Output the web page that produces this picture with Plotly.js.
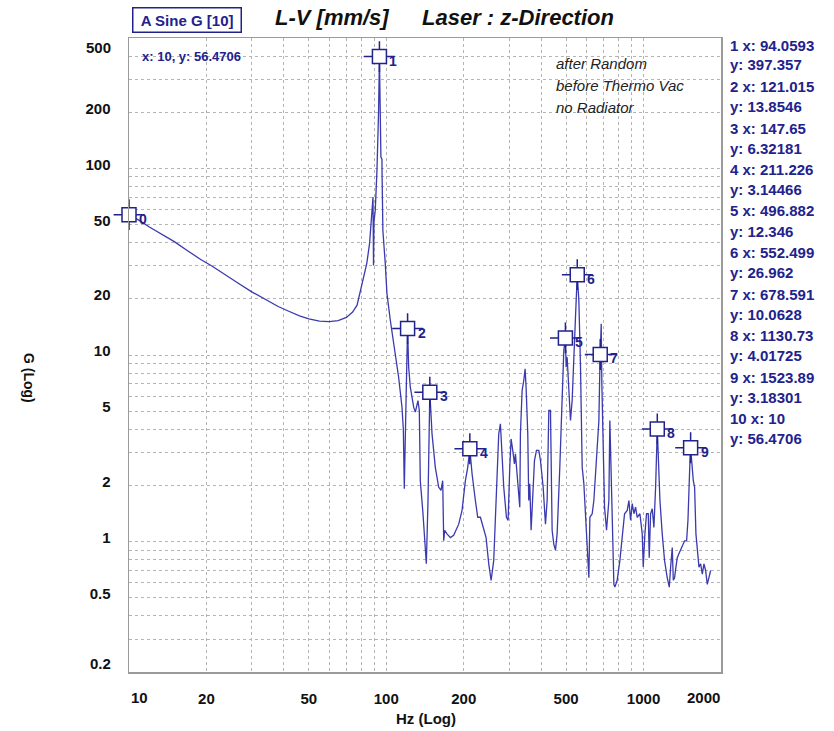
<!DOCTYPE html>
<html><head><meta charset="utf-8">
<script src="https://cdn.plot.ly/plotly-3.0.1.min.js"></script>
<style>html,body{margin:0;padding:0;background:#fff;}#chart{width:834px;height:731px;}</style>
</head><body><div id="chart"></div>
<script>
// ---- data ----
const freqHz = [10,11,12,13.5,15,17,19,21,23.5,26.5,30,34,38,42,46,50,55,60,65,70,74,77,79.2,82,84,86.1,87.3,88.0,88.8,89.2,89.6,90.6,92.0,93.3,94.06,95.3,95.8,96.2,96.3,97.0,99.1,100.6,103.7,106.8,111.7,115.1,116.5,117.5,118.5,119.7,121.0,122.2,124.0,127.8,129.7,132.8,134.4,135.6,138.9,141.8,143.1,145.3,146.8,147.65,150.6,155.1,159.8,163.2,165.7,167.2,168.7,172.2,177.5,182.8,191.2,197.0,203.0,207.3,211.2,215.5,222.0,226.7,232.2,239.2,244.3,250.2,255.5,261.6,268.0,273.6,277.7,281.8,286.1,293.1,297.5,302.0,305.6,310.2,314.9,317.7,324.4,330.3,332.2,337.3,342.3,346.4,349.5,354.8,357.9,361.2,365.6,372.2,376.7,383.5,391.6,397.5,407.1,415.7,422.0,428.3,434.7,441.2,447.8,454.6,461.4,472.6,482.6,489.8,496.9,500.2,504.7,512.3,520.0,527.8,535.8,543.8,552.5,560.4,568.8,577.4,586.1,594.9,603.8,613.0,618.5,631.4,641.0,656.6,670.5,676.5,678.6,684.5,688.6,696.9,705.3,718.0,733.1,739.7,748.6,755.3,766.7,773.6,789.8,809.0,826.1,843.6,864.1,877.1,890.4,903.8,917.3,931.0,945.0,967.8,988.3,997.2,1012,1027,1043,1052,1065,1081,1097,1114,1130.7,1137,1158,1182,1207,1236,1259,1274,1293,1305,1320,1336,1352,1372,1393,1414,1444,1470,1488,1515,1523.9,1561,1579,1598,1618,1642,1667,1692,1717,1743,1769,1796,1823];
const gLevel = [56.47,52.5,48.5,44,40.5,36,32.5,30,27,24.3,21.8,19.8,18.2,17.1,16.2,15.6,15.2,15.1,15.3,15.9,17,18.5,22,27,31,39.5,50,59.6,70.2,30.2,52,59.6,97.6,197,397.36,115,113,112,94,46.5,30.9,21.4,15.3,11.5,7.6,5.25,4.0,1.92,4.5,7.0,13.85,8.6,6.72,5.25,4.94,5.70,5.04,2.12,1.41,0.93,0.76,1.66,4.5,6.32,3.78,2.50,1.96,1.88,2.12,1.01,1.15,1.10,1.05,1.08,1.24,1.47,2.12,2.50,3.14,2.31,1.66,1.35,1.35,1.15,1.05,0.76,0.62,0.79,1.66,3.78,4.28,3.08,1.96,1.35,1.30,2.50,3.55,3.08,2.61,2.95,1.96,1.53,3.78,6.45,7.30,8.43,6.72,3.78,1.66,2.04,1.15,2.12,2.72,3.08,3.08,2.72,1.96,1.24,1.66,5.04,5.04,1.15,0.97,0.90,1.10,2.50,7.00,10.57,12.35,8.60,9.73,6.19,4.46,5.70,10.57,15.96,26.96,19.6,8.60,2.50,2.04,1.35,1.01,0.64,1.35,1.41,1.66,2.95,4.46,8.60,10.06,14.69,7.00,2.50,1.53,1.15,1.66,4.46,2.50,1.41,0.59,0.57,0.62,0.79,1.10,1.41,1.47,1.66,1.30,1.60,1.41,1.53,1.35,1.41,1.10,0.73,1.10,1.41,1.41,0.82,1.41,1.50,1.19,1.96,4.02,3.08,1.66,1.10,0.79,0.64,0.57,0.73,0.93,0.62,0.64,0.73,0.82,0.86,0.90,0.93,1.01,1.01,1.30,2.72,3.18,2.12,1.96,1.10,0.90,0.73,0.76,0.67,0.76,0.70,0.59,0.64,0.70];

const markerId = [0,1,2,3,4,5,6,7,8,9];
const listNo   = [10,1,2,3,4,5,6,7,8,9];
const markerHz = [10,94.0593,121.015,147.65,211.226,496.882,552.499,678.591,1130.73,1523.89];
const markerG  = [56.4706,397.357,13.8546,6.32181,3.14466,12.346,26.962,10.0628,4.01725,3.18301];

const xTickVals   = [10,20,30,40,50,60,70,80,90,100,200,300,400,500,600,700,800,900,1000,2000];
const xTickLabels = ['','20','','','50','','','','','100','200','','','500','','','','','1000',''];
const yTickVals   = [0.2,0.3,0.4,0.5,0.6,0.7,0.8,0.9,1,2,3,4,5,6,7,8,9,10,20,30,40,50,60,70,80,90,100,200,300,400,500];
const yTickLabels = ['','','','0.5','','','','','1','2','','','5','','','','','10','20','','','50','','','','','100','200','','',''];

const noteLines = ['after Random','before Thermo Vac','no Radiator'];
const titleLeft = 'L-V [mm/s]';
const titleRight = 'Laser : z-Direction';
const boxText = 'A Sine G [10]';
const cursorText = 'x: 10, y: 56.4706';

// ---- layout helpers (pixel -> paper) ----
const L = 129, R = 721, T = 38, B = 672, W = 834, H = 731;
const px = x => (x - L) / (R - L);
const py = y => (B - y) / (B - T);

const NAVY = '#22228c';
const LINE = '#3a3aae';
const FONT = 'Liberation Sans, Arial, Helvetica, sans-serif';

const traces = [
  {x: freqHz, y: gLevel, type: 'scatter', mode: 'lines', line: {color: LINE, width: 1.3}, hoverinfo: 'skip'},
  {x: markerHz, y: markerG, type: 'scatter', mode: 'markers', cliponaxis: false,
   marker: {symbol: 'cross-thin-open', size: 22, color: NAVY, line: {color: NAVY, width: 1.5}}, hoverinfo: 'skip'},
  {x: markerHz, y: markerG, type: 'scatter', mode: 'markers', cliponaxis: false,
   marker: {symbol: 'square', size: 14, color: '#ffffff', line: {color: NAVY, width: 1.5}}, hoverinfo: 'skip'}
];

const ann = [];
function paperText(x, y, text, size, color, extra) {
  ann.push(Object.assign({x: px(x), y: py(y), xref: 'paper', yref: 'paper', showarrow: false,
    xanchor: 'center', yanchor: 'middle', text: text, font: {family: FONT, size: size, color: color}}, extra || {}));
}
// marker labels
markerId.forEach((id, i) => ann.push({
  x: Math.log10(markerHz[i]), y: Math.log10(markerG[i]), xref: 'x', yref: 'y',
  text: '<b>' + id + '</b>', showarrow: false, xanchor: 'left', yanchor: 'middle',
  xshift: 8, yshift: -4, font: {family: FONT, size: 14, color: NAVY}
}));
// right side list
const order = [1,2,3,4,5,6,7,8,9,0];
order.forEach((mi, k) => {
  paperText(728, 45 + 41.5 * k, '<b>' + listNo[mi] + ' x: ' + markerHz[mi] + '</b>', 15, NAVY, {xanchor: 'left'});
  paperText(728, 65 + 41.5 * k, '<b>y: ' + markerG[mi] + '</b>', 15, NAVY, {xanchor: 'left'});
});
// notes
noteLines.forEach((t, k) => paperText(554, 64 + 22 * k, '<i>' + t + '</i>', 15, '#222', {xanchor: 'left'}));
// titles
paperText(332, 18, '<b><i>' + titleLeft + '</i></b>', 22, '#111');
paperText(518, 18, '<b><i>' + titleRight + '</i></b>', 22, '#111');
paperText(187, 20, '<b>\u00a0' + boxText + '\u00a0</b>', 15, NAVY, {bordercolor: NAVY, borderwidth: 1.5, borderpad: 3});
paperText(140, 56, '<b>' + cursorText + '</b>', 13, NAVY, {xanchor: 'left'});
// axis titles
paperText(29, 378, '<b>G (Log)</b>', 14, '#111', {textangle: 90});
paperText(426, 718, '<b>Hz (Log)</b>', 15, '#111');
// end tick labels placed like the reference
paperText(113, 47, '<b>500</b>', 15, '#111', {xanchor: 'right'});
paperText(113, 663, '<b>0.2</b>', 15, '#111', {xanchor: 'right'});
paperText(139, 697, '<b>10</b>', 15, '#111');
paperText(703, 697, '<b>2000</b>', 15, '#111');

const axisCommon = {
  type: 'log', showgrid: true, gridcolor: '#b4b4b4', griddash: 'dot', gridwidth: 1,
  zeroline: false, showline: true, mirror: true, linecolor: '#9a9a9a', linewidth: 1.5,
  ticks: '', tickmode: 'array', tickfont: {family: FONT, size: 15, color: '#111', weight: 'bold'},
  fixedrange: true
};

const layout = {
  width: W, height: H, margin: {l: L, r: W - R, t: T, b: H - B, pad: 0},
  paper_bgcolor: '#fff', plot_bgcolor: '#fff', showlegend: false,
  xaxis: Object.assign({}, axisCommon, {range: [1, Math.log10(2000)], tickvals: xTickVals, ticktext: xTickLabels,
    ticklabelstandoff: 12}),
  yaxis: Object.assign({}, axisCommon, {range: [Math.log10(0.2), Math.log10(500)], tickvals: yTickVals, ticktext: yTickLabels,
    ticklabelstandoff: 14, ticklabelshift: -4}),
  annotations: ann
};

Plotly.newPlot('chart', traces, layout, {displayModeBar: false, staticPlot: true});
</script></body></html>
